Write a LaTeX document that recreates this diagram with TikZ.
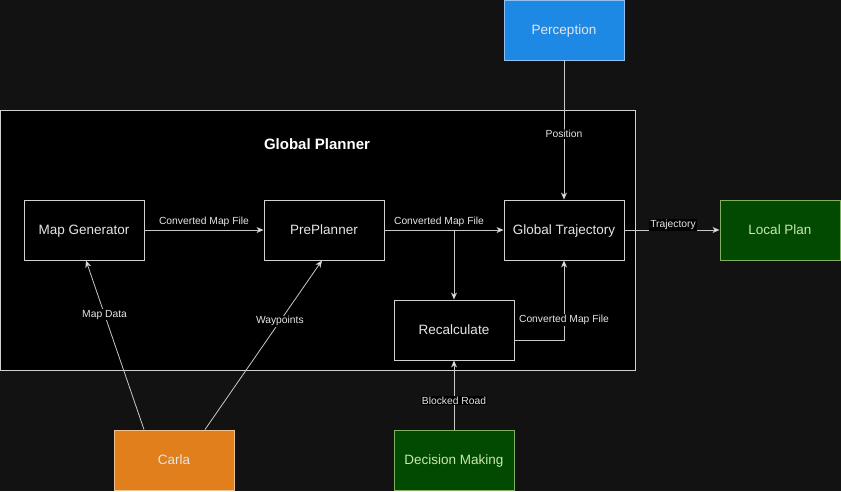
\documentclass[tikz,border=0pt]{standalone}
\usepackage{fontspec}
\setmainfont{Liberation Sans}
\usetikzlibrary{arrows.meta}
\definecolor{bgc}{HTML}{121212}
\definecolor{linec}{HTML}{C8C8C8}
\definecolor{boxline}{HTML}{D0D0D0}
\definecolor{txtc}{HTML}{E6E6E6}
\definecolor{percfill}{HTML}{1E88E5}
\definecolor{percline}{HTML}{90C0F0}
\definecolor{greenfill}{HTML}{024A02}
\definecolor{greenline}{HTML}{80B060}
\definecolor{greentxt}{HTML}{C8E8B0}
\definecolor{orangefill}{HTML}{E07F1C}
\definecolor{orangeline}{HTML}{F0C090}
\tikzset{
  x=1pt, y=-1pt,
  box/.style={draw=boxline, line width=0.9pt, fill=black, minimum width=120pt, minimum height=60pt, inner sep=0pt, font=\fontsize{13.5}{15}\selectfont, text=txtc, text depth=1pt},
  bluebox/.style={box, fill=percfill, draw=percline},
  greenbox/.style={box, fill=greenfill, draw=greenline, text=greentxt},
  orangebox/.style={box, fill=orangefill, draw=orangeline},
  conn/.style={draw=linec, line width=0.8pt, -{Stealth[length=7pt,width=6pt,inset=2pt,fill=white]}},
  elabel/.style={font=\fontsize{10.3}{12}\selectfont, text=txtc, fill=black, inner sep=1pt},
  elabelnf/.style={font=\fontsize{10.3}{12}\selectfont, text=txtc, inner sep=1pt}
}
\begin{document}
\begin{tikzpicture}
\fill[bgc] (0,0) rectangle (841,491);
\useasboundingbox (0,0) rectangle (841,491);
\node[draw=boxline, line width=0.9pt, fill=black, minimum width=635pt, minimum height=260pt, inner sep=0pt] (gp) at (318,240) {};
\node[font=\bfseries\fontsize{15}{17}\selectfont, text=white] (gpt) at (317,144) {Global Planner};

\node[box] (mg) at (84,230) {Map Generator};
\node[box] (pp) at (324,230) {PrePlanner};
\node[box] (gt) at (564,230) {Global Trajectory};
\node[box] (rc) at (454,330) {Recalculate};
\node[bluebox] (pe) at (564,30) {Perception};
\node[greenbox] (lp) at (780,230) {Local Plan};
\node[orangebox] (ca) at (174,460) {Carla};
\node[greenbox] (dm) at (454,460) {Decision Making};

\coordinate (br) at (454,230);
\coordinate (rcc) at (564,340);

\draw[conn] (mg) -- node[elabelnf, above=2pt] {Converted Map File} (pp);
\draw[conn] (pp) -- node[elabelnf, above=2pt, xshift=-5pt] {Converted Map File} (gt);
\draw[conn] (br) -- (rc.north);
\draw[conn] (rc.east |- rcc) -- (rcc) -- node[elabel, pos=0.25] {Converted Map File} (gt.south);
\draw[conn] (pe.south) -- node[elabel, pos=0.53] {Position} (gt.north);
\draw[conn] (gt) -- node[elabel, above=-1pt, xshift=1pt] {Trajectory} (lp);
\draw[conn] (ca.north -| 144,0) -- node[elabel, pos=0.68] {Map Data} (mg.south -| 86,0);
\draw[conn] (ca.north -| 205,0) -- node[elabel, pos=0.64] {Waypoints} (pp.south -| 322,0);
\draw[conn] (dm.north) -- node[elabel, pos=0.42] {Blocked Road} (rc.south);
\end{tikzpicture}
\end{document}
